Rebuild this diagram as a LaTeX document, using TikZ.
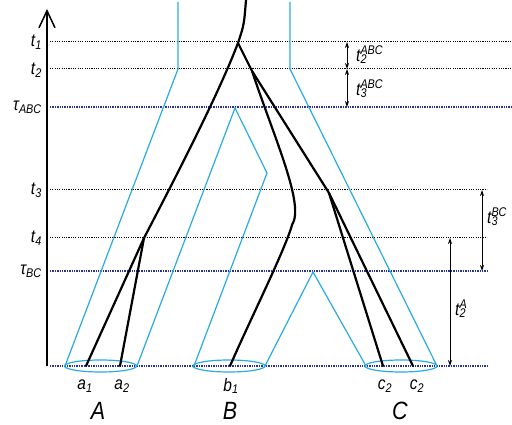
\documentclass[tikz,border=0pt]{standalone}
\usepackage{fontspec}
\setmainfont{Liberation Sans}[FakeStretch=0.86]
\usetikzlibrary{arrows.meta, positioning}

\definecolor{artblau}{RGB}{41,171,226}
\definecolor{zeitblau}{RGB}{40,50,150}

\tikzset{
  art/.style={artblau, line width=1.2pt},
  gen/.style={black, line width=2.2pt, line cap=round},
  zeitlinie/.style={black, line width=1pt, dash pattern=on 1.1pt off 1.2pt},
  taulinie/.style={zeitblau, line width=1.8pt, dash pattern=on 1.3pt off 1.1pt},
  spanne/.style={{Stealth[length=6pt,width=4pt]}-{Stealth[length=6pt,width=4pt]}, line width=0.8pt},
  lab/.style={font=\fontsize{18}{20}\selectfont\itshape, inner sep=1pt},
  art label/.style={font=\fontsize{25}{28}\selectfont\itshape, inner sep=1pt}
}

\newcommand{\tzeit}[2]{t\rlap{\textsuperscript{#1}}\textsubscript{#2}}

\begin{document}
\begin{tikzpicture}[x=1pt, y=-1pt]
  \useasboundingbox (0,0) rectangle (512,425);

  % Zeitebenen
  \coordinate (lt1) at (50,42);
  \coordinate (lt2) at (50,69);
  \coordinate (ltABC) at (50,107);
  \coordinate (lt3) at (50,190);
  \coordinate (lt4) at (50,238);
  \coordinate (ltBC) at (50,271);
  \coordinate (l0) at (50,366);

  \draw[zeitlinie] (lt1) -- (512,42);
  \draw[zeitlinie] (lt2) -- (512,69);
  \draw[taulinie] (ltABC) -- (512,107);
  \draw[zeitlinie] (lt3) -- (487,190);
  \draw[zeitlinie] (lt4) -- (487,238);
  \draw[taulinie] (ltBC) -- (487,271);
  \draw[taulinie] (l0) -- (487,366);

  % Zeitachse
  \draw[line width=1.5pt, -{Straight Barb[length=17pt,width=16pt]}] (47,366) -- (47,9);
  \node[lab, anchor=east] (nt1) at (43,42) {t\textsubscript{1}};
  \node[lab, anchor=east] (nt2) at (43,70) {t\textsubscript{2}};
  \node[lab, anchor=east] (ntABC) at (43,107) {τ\textsubscript{ABC}};
  \node[lab, anchor=east] (nt3) at (43,190) {t\textsubscript{3}};
  \node[lab, anchor=east] (nt4) at (43,238) {t\textsubscript{4}};
  \node[lab, anchor=east] (ntBC) at (43,271) {τ\textsubscript{BC}};

  % Artbaum
  \draw[art] (178,2) -- (178,69) -- (65,366);
  \draw[art] (290,2) -- (290,69) -- (437,366);
  \draw[art] (137,366) -- (235,108) -- (267,173) -- (194,366);
  \draw[art] (265,366) -- (313,272) -- (366,366);
  \draw[art] (100.5,366) ellipse [x radius=36, y radius=6];
  \draw[art] (229,366) ellipse [x radius=36, y radius=6];
  \draw[art] (401,366) ellipse [x radius=36, y radius=6];

  % Genbaum
  \coordinate (wurzel) at (246,0);
  \coordinate (k1) at (238,43);
  \coordinate (k2) at (252,71);
  \coordinate (k3) at (329,193);
  \coordinate (k4) at (144,238);
  \coordinate (a1) at (86,366);
  \coordinate (a2) at (120,366);
  \coordinate (b1) at (230,366);
  \coordinate (c1) at (383,366);
  \coordinate (c2) at (413,366);

  \draw[gen] (wurzel) .. controls (244,25) .. (k1);
  \draw[gen] (k1) .. controls (222,85) and (190,150) .. (k4);
  \draw[gen] (k1) -- (k2);
  \draw[gen] (k2) .. controls (275,140) and (305,205) .. (292,225)
                  .. controls (285,250) and (250,320) .. (b1);
  \draw[gen] (k2) -- (k3);
  \draw[gen] (k3) -- (c1);
  \draw[gen] (k3) -- (c2);
  \draw[gen] (k4) -- (a1);
  \draw[gen] (k4) -- (a2);

  % Zeitspannen
  \coordinate (pABC) at (347,0);
  \coordinate (pBC) at (482,0);
  \coordinate (pA) at (450,0);
  \draw[spanne] (lt1 -| pABC) -- (lt2 -| pABC);
  \draw[spanne] (lt2 -| pABC) -- (ltABC -| pABC);
  \draw[spanne] (lt3 -| pBC) -- (ltBC -| pBC);
  \draw[spanne] (lt4 -| pA) -- (l0 -| pA);
  \node[lab, anchor=west] (s2ABC) at (355,55) {\tzeit{ABC}{2}};
  \node[lab, anchor=west] (s3ABC) at (355,89) {\tzeit{ABC}{3}};
  \node[lab, anchor=west] (s3BC) at (486,217) {\tzeit{BC}{3}};
  \node[lab, anchor=west] (s2A) at (454,309) {\tzeit{A}{2}};

  % Proben und Arten
  \node[lab] (na1) at (85,386) {a\textsubscript{1}};
  \node[lab] (na2) at (122,386) {a\textsubscript{2}};
  \node[lab] (nb1) at (231,386) {b\textsubscript{1}};
  \node[lab] (nc1) at (385,386) {c\textsubscript{2}};
  \node[lab] (nc2) at (417,386) {c\textsubscript{2}};
  \node[art label] (artA) at (98,411) {A};
  \node[art label] (artB) at (230,411) {B};
  \node[art label] (artC) at (400,411) {C};
\end{tikzpicture}
\end{document}
